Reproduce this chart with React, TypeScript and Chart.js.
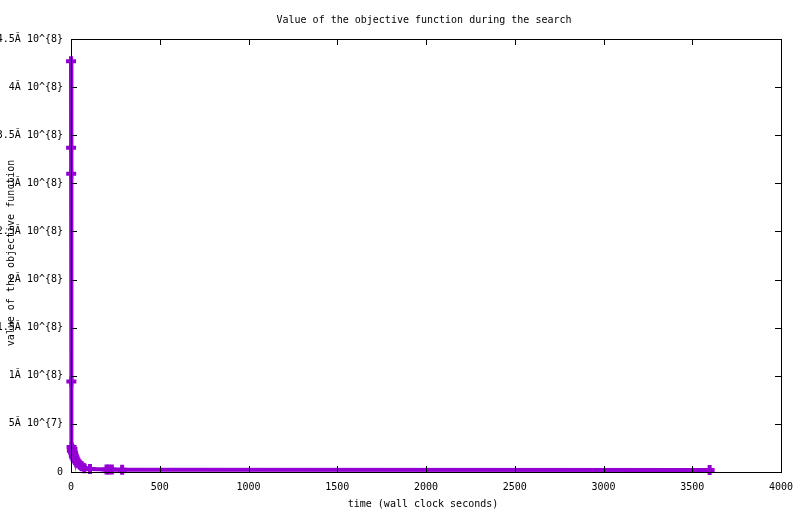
import React, { useEffect, useRef } from "react";
import { Chart, registerables } from "chart.js";

Chart.register(...registerables);

const titleText = "Value of the objective function during the search";
const xTitle = "time (wall clock seconds)";
const yTitle = "value of the objective function";

const times = [0, 0.5, 1, 2, 3, 5, 8, 12, 16, 20, 25, 30, 40, 50, 60, 75, 107, 200, 212, 230, 288, 3598];
const values = [
  4.27e8, 3.37e8, 3.1e8, 9.4e7, 2.6e7, 2.2e7, 2.4e7, 2.0e7, 1.7e7, 1.5e7, 1.3e7, 1.1e7, 9e6, 7.5e6, 6e6,
  4e6, 3e6, 2.7e6, 2.6e6, 2.5e6, 2.4e6, 2.2e6,
];

const xTickLabels = ["0", "500", "1000", "1500", "2000", "2500", "3000", "3500", "4000"];
const yTickLabels = [
  "0",
  "5Ă 10^{7}",
  "1Ă 10^{8}",
  "1.5Ă 10^{8}",
  "2Ă 10^{8}",
  "2.5Ă 10^{8}",
  "3Ă 10^{8}",
  "3.5Ă 10^{8}",
  "4Ă 10^{8}",
  "4.5Ă 10^{8}",
];

const FONT = "'DejaVu Sans Mono', monospace";

const framePlugin = {
  id: "frame",
  afterDatasetsDraw(chart: any) {
    const { ctx, chartArea, scales } = chart;
    const { left, right, top, bottom } = chartArea;
    ctx.save();
    ctx.strokeStyle = "#000";
    ctx.lineWidth = 1;
    ctx.beginPath();
    const tl = 6;
    scales.x.ticks.forEach((t: any) => {
      const px = Math.round(scales.x.getPixelForValue(t.value)) + 0.5;
      ctx.moveTo(px, bottom);
      ctx.lineTo(px, bottom - tl);
      ctx.moveTo(px, top);
      ctx.lineTo(px, top + tl);
    });
    scales.y.ticks.forEach((t: any) => {
      const py = Math.round(scales.y.getPixelForValue(t.value)) + 0.5;
      ctx.moveTo(left, py);
      ctx.lineTo(left + tl, py);
      ctx.moveTo(right, py);
      ctx.lineTo(right - tl, py);
    });
    ctx.stroke();
    ctx.strokeRect(Math.round(left) + 0.5, Math.round(top) + 0.5, Math.round(right - left), Math.round(bottom - top));
    ctx.restore();
  },
  afterDraw(chart: any) {
    const { ctx, chartArea } = chart;
    const cx = (chartArea.left + chartArea.right) / 2;
    ctx.save();
    ctx.fillStyle = "#000";
    ctx.font = `10px ${FONT}`;
    ctx.textAlign = "center";
    ctx.textBaseline = "middle";
    ctx.fillText(titleText, cx - 2, 20);
    ctx.fillText(xTitle, cx - 3, 504);
    ctx.translate(11, 253);
    ctx.rotate(-Math.PI / 2);
    ctx.fillText(yTitle, 0, 0);
    ctx.restore();
  },
};

export default function App() {
  const ref = useRef<HTMLCanvasElement | null>(null);
  useEffect(() => {
    document.body.style.margin = "0";
    if (!ref.current) return;
    const chart = new Chart(ref.current, {
      type: "scatter",
      data: {
        datasets: [
          {
            data: times.map((t, i) => ({ x: t, y: values[i] })),
            showLine: true,
            clip: false,
            borderColor: "#9400D3",
            backgroundColor: "#9400D3",
            borderWidth: 4,
            pointStyle: "cross",
            pointRadius: 5,
            pointBorderWidth: 4,
            pointBorderColor: "#9400D3",
            tension: 0,
          } as any,
        ],
      },
      options: {
        responsive: false,
        animation: false,
        devicePixelRatio: 1,
        layout: { padding: { top: 39, right: 19, left: 0, bottom: 0 } },
        plugins: {
          legend: { display: false },
          tooltip: { enabled: false },
          title: { display: false },
        },
        scales: {
          x: {
            type: "linear",
            min: 0,
            max: 4000,
            grid: { display: false },
            border: { display: false },
            ticks: {
              stepSize: 500,
              color: "#000",
              font: { family: FONT, size: 10 },
              padding: 1,
              maxRotation: 0,
              callback: (_v: any, i: number) => xTickLabels[i],
            },
            afterFit: (s: any) => {
              s.height = 42;
              s.paddingLeft = 0;
              s.paddingRight = 0;
            },
          },
          y: {
            type: "linear",
            min: 0,
            max: 4.5e8,
            grid: { display: false },
            border: { display: false },
            ticks: {
              stepSize: 5e7,
              color: "#000",
              font: { family: FONT, size: 10 },
              padding: 0,
              callback: (_v: any, i: number) => yTickLabels[i],
            },
            afterFit: (s: any) => {
              s.width = 71;
              s.paddingTop = 0;
              s.paddingBottom = 0;
            },
          },
        },
      } as any,
      plugins: [framePlugin],
    });
    return () => chart.destroy();
  }, []);
  return <canvas ref={ref} width={800} height={514} style={{ display: "block" }} />;
}
